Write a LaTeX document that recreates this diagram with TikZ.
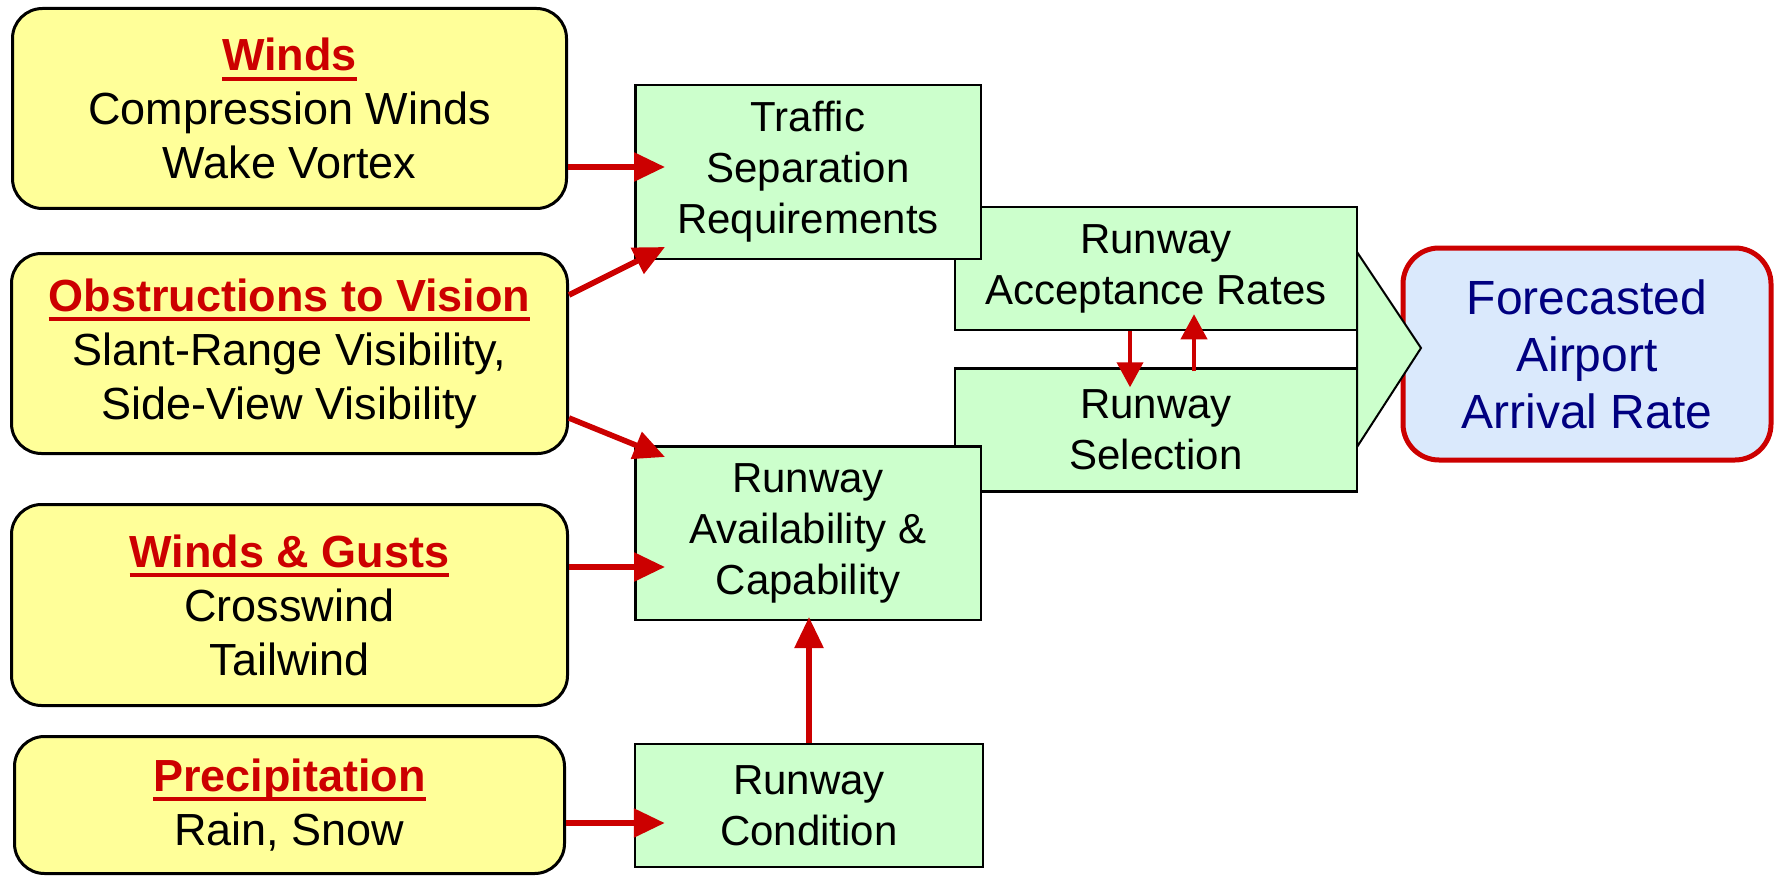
\documentclass[tikz,border=0pt]{standalone}
\usepackage{fontspec}
\setmainfont{Liberation Sans}
\usetikzlibrary{positioning, calc, arrows.meta}
\definecolor{wxyellow}{HTML}{FFFF99}
\definecolor{rwgreen}{HTML}{CCFFCC}
\definecolor{aarblue}{HTML}{DAE9FC}
\definecolor{hotred}{HTML}{CC0000}
\definecolor{aarnavy}{HTML}{000080}
\newcommand{\redhead}[1]{{\color{hotred}\bfseries\setbox0\hbox{#1}\rlap{\rule[-5pt]{\wd0}{2pt}}\box0}}
\tikzstyle{wxbox} = [rectangle, rounded corners=15pt, draw=black, line width=1.5pt, fill=wxyellow, align=center, inner sep=0pt, font=\fontsize{22.5}{27}\selectfont]
\tikzstyle{rwbox} = [rectangle, draw=black, line width=1.25pt, fill=rwgreen, align=center, inner sep=0pt, font=\fontsize{21}{25.5}\selectfont]
\tikzstyle{aarbox} = [rectangle, rounded corners=18pt, draw=hotred, line width=2.5pt, fill=aarblue, text=aarnavy, align=center, inner sep=0pt, font=\fontsize{24}{28.5}\selectfont]
\tikzstyle{arrow} = [line width=2.8pt, draw=hotred, -{Triangle[length=15.5pt, width=14pt]}]
\tikzstyle{smallarrow} = [line width=2pt, draw=hotred, -{Triangle[length=12.5pt, width=13pt]}]

\begin{document}
\begin{tikzpicture}[x=0.5pt, y=-0.5pt]
		\useasboundingbox (0,0) rectangle (1781,877);
		%结果和大箭头
		\node (aar) [aarbox, minimum width=184pt, minimum height=106pt] at (1587,354) {Forecasted\\Airport\\Arrival Rate};
		\draw [black, line width=1pt, fill=rwgreen] (1357,252) -- (1421,348) -- (1357,447) -- cycle;
		
		%跑道方框
		\node (accept) [rwbox, minimum width=201pt, minimum height=61.5pt] at (1156,268.5) {Runway\\Acceptance Rates};
		\node (select) [rwbox, minimum width=201pt, minimum height=61.5pt, below=18pt of accept] {Runway\\Selection};
		\node (traffic) [rwbox, minimum width=172.75pt, minimum height=86.75pt] at (808,172) {Traffic\\Separation\\Requirements};
		\node (avail) [rwbox, minimum width=172.75pt, minimum height=86.75pt] at (808,533) {Runway\\Availability \&\\Capability};
		\node (cond) [rwbox, minimum width=174pt, minimum height=61.5pt] at (809,805.5) {Runway\\Condition};
		
		%天气方框
		\node (winds) [wxbox, minimum width=277pt, minimum height=100pt] at (289.5,108.5) {\redhead{Winds}\\Compression Winds\\Wake Vortex};
		\node (obst) [wxbox, minimum width=278pt, minimum height=100pt] at (289.5,353.5) {\redhead{Obstructions to Vision}\\Slant-Range Visibility,\\Side-View Visibility};
		\node (gusts) [wxbox, minimum width=278pt, minimum height=100.5pt] at (289.5,605) {\redhead{Winds \& Gusts}\\Crosswind\\Tailwind};
		\node (precip) [wxbox, minimum width=275pt, minimum height=68.5pt] at (289.5,805) {\redhead{Precipitation}\\Rain, Snow};
		
		%连接
		\draw [arrow, shorten >=-15.5pt] ($(winds.east)+(0,58.5)$) -- ($(winds.east -| traffic.west)+(0,58.5)$);
		\draw [arrow] ($(obst.east)+(0,-58.5)$) -- ($(traffic.south west)+(31,-13)$);
		\draw [arrow] ($(obst.east)+(0,64.5)$) -- ($(avail.north west)+(31,12)$);
		\draw [arrow, shorten >=-15.5pt] ($(gusts.east)+(0,-38)$) -- ($(gusts.east -| avail.west)+(0,-38)$);
		\draw [arrow, shorten >=-15.5pt] ($(precip.east)+(0,18)$) -- ($(precip.east -| cond.west)+(0,18)$);
		\draw [arrow, shorten >=-2pt] (cond.north) -- (cond.north |- avail.south);
		\draw [smallarrow, shorten >=-10pt] ($(accept.south)+(-26,0)$) -- ($(select.north)+(-26,0)$);
		\draw [smallarrow, shorten >=-8.5pt] ($(select.north)+(38,4)$) -- ($(accept.south)+(38,0)$);
	\end{tikzpicture}
\end{document}
